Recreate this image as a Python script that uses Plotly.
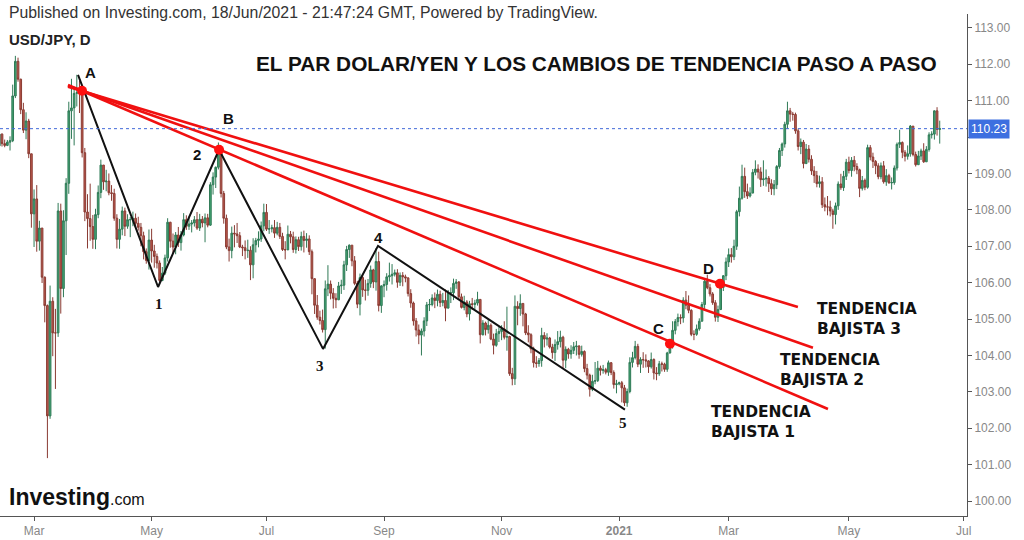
import pandas as pd
import plotly.graph_objects as go

# ---------------- data (USD/JPY daily) ----------------
first_open = 109.76
closes = [
    110.08,109.82,109.77,109.86,109.90,111.13,112.08,111.59,110.75,110.19,110.44,109.54,107.89,
    108.30,107.14,107.50,106.15,105.37,102.34,105.49,104.62,104.62,107.97,105.84,107.70,108.73,110.72,110.80,111.20,111.22,111.21,109.57,107.94,107.76,107.54,
    107.19,107.87,108.48,109.23,108.77,108.79,108.47,108.45,107.77,107.19,107.47,107.97,107.55,107.73,107.73,107.77,107.63,107.52,107.29,106.85,106.61,107.17,
    106.87,106.72,106.54,106.06,106.26,106.68,107.66,107.14,106.98,107.31,107.10,107.31,107.73,107.55,107.61,107.64,107.73,107.50,107.74,107.64,107.78,
    107.58,108.69,108.90,109.17,109.59,108.45,107.77,106.98,106.88,107.36,107.34,107.29,106.98,106.96,106.88,106.89,106.49,107.04,107.16,107.20,107.56,107.93,
    107.47,107.48,107.51,107.36,107.52,107.27,106.91,106.90,107.33,107.26,106.91,107.18,106.99,107.27,107.16,107.20,106.85,106.11,105.38,105.05,104.96,104.71,105.83,
    105.96,105.71,105.57,105.53,105.91,105.93,106.49,106.91,107.03,106.60,105.98,105.41,106.14,105.80,105.79,105.98,106.35,106.02,106.58,105.37,105.91,
    105.95,106.16,106.19,106.23,106.27,106.01,106.20,106.16,106.13,105.70,105.44,104.95,104.70,104.56,104.67,104.95,105.39,105.40,105.58,105.51,105.68,105.45,
    105.51,105.30,105.72,105.72,105.98,106.02,105.61,105.32,105.47,105.14,105.42,105.40,105.44,105.54,104.57,104.89,104.71,104.83,104.45,104.28,104.60,104.66,
    104.73,104.50,104.52,103.50,103.36,105.35,105.29,105.43,105.14,104.62,104.57,104.18,103.80,103.78,103.86,104.55,104.45,104.48,104.23,104.08,104.30,
    104.38,104.50,103.87,104.17,104.04,104.14,104.24,104.26,104.03,104.11,103.64,103.46,103.07,103.29,103.31,103.65,103.59,103.61,103.54,103.80,103.53,103.20,103.22,
    103.25,103.11,102.70,103.01,103.81,103.94,104.25,103.76,103.89,103.88,103.85,103.69,103.89,103.52,103.50,103.77,103.76,103.62,104.07,104.25,104.69,
    104.93,105.04,105.03,105.52,105.38,105.24,104.58,104.58,104.73,104.94,105.40,106.04,105.86,105.69,105.45,105.05,105.26,105.87,106.19,106.57,
    106.77,106.71,107.00,107.95,108.32,108.92,108.50,108.38,108.46,109.03,109.12,109.04,108.83,108.85,108.87,108.72,108.58,108.69,109.19,109.63,109.81,110.35,110.72,
    110.63,110.62,110.17,109.74,109.86,109.27,109.67,109.39,109.07,108.94,108.72,108.77,108.14,108.08,108.08,107.97,107.87,108.11,108.71,108.61,108.92,109.31,
    109.08,109.36,109.19,109.10,108.59,108.81,108.62,109.71,109.45,109.33,109.21,108.91,109.21,108.77,108.94,108.74,108.75,109.15,109.80,109.85,109.58,
    109.47,109.54,110.30,109.52,109.24,109.48,109.62,109.32,109.66,110.06,110.08,110.72,110.21,110.23,
]
highs = [
    110.14,110.10,109.93,109.92,110.02,111.44,112.23,112.18,111.60,110.94,110.68,110.50,109.53,
    108.56,108.68,107.70,107.50,106.17,105.40,105.92,105.60,105.28,108.19,108.17,107.99,108.87,110.97,111.60,111.33,111.71,111.54,111.29,109.70,108.43,108.72,
    107.86,108.03,108.67,109.38,109.13,109.10,109.00,108.68,108.58,107.88,107.75,108.09,108.06,107.88,107.80,107.95,107.90,107.81,107.64,107.40,106.94,107.46,
    107.48,107.04,106.80,106.61,106.43,106.77,107.77,107.67,107.35,107.39,107.53,107.42,107.91,107.85,107.82,107.72,107.83,107.94,107.89,107.83,107.90,
    107.89,108.76,109.03,109.19,109.85,109.50,108.52,107.87,107.21,107.54,107.58,107.64,107.39,107.04,107.16,107.18,107.00,107.22,107.23,107.41,107.68,108.17,
    108.16,107.72,107.59,107.72,107.67,107.64,107.37,107.14,107.57,107.42,107.40,107.27,107.26,107.40,107.43,107.36,107.30,106.91,106.10,105.66,105.23,105.26,106.06,
    106.48,106.06,105.85,105.71,106.02,106.08,106.60,107.01,107.05,107.01,106.73,106.05,106.25,106.22,106.08,106.10,106.47,106.38,106.95,106.85,105.93,
    106.06,106.26,106.55,106.51,106.36,106.37,106.28,106.29,106.22,106.15,105.82,105.48,105.03,104.85,104.74,105.05,105.47,105.55,105.68,105.73,105.81,105.78,
    105.72,105.81,105.80,105.87,106.11,106.10,106.04,105.70,105.64,105.52,105.50,105.58,105.53,105.75,105.54,104.97,104.93,104.97,104.88,104.60,104.73,104.78,
    104.83,104.94,105.34,104.54,103.66,105.65,105.49,105.68,105.43,105.17,104.83,104.61,104.24,103.98,103.93,104.76,104.64,104.61,104.51,104.32,104.44,
    104.67,104.68,104.54,104.25,104.21,104.28,104.37,104.40,104.28,104.27,104.14,103.77,103.50,103.47,103.82,103.85,103.72,103.74,103.66,103.86,103.82,103.59,103.33,
    103.28,103.30,103.19,103.09,103.95,104.10,104.40,104.32,103.95,104.09,104.03,103.87,104.08,103.92,103.68,103.85,103.83,103.80,104.10,104.40,104.94,
    105.00,105.15,105.13,105.60,105.77,105.65,105.27,104.69,104.85,105.02,105.47,106.12,106.22,105.96,105.74,105.52,105.37,106.00,106.21,106.69,
    106.94,106.95,107.18,108.00,108.64,109.24,109.16,108.72,108.62,109.12,109.36,109.25,109.17,109.36,109.11,108.93,108.84,108.82,109.23,109.70,109.85,110.42,110.97,
    110.80,110.69,110.67,110.23,109.96,109.92,109.81,109.78,109.50,109.20,109.07,108.94,108.90,108.34,108.38,108.25,108.03,108.20,108.78,108.99,109.07,109.40,
    109.46,109.45,109.48,109.28,109.13,108.93,108.86,109.79,109.78,109.57,109.37,109.28,109.30,109.34,109.12,108.99,108.89,109.22,109.85,110.20,109.88,
    109.64,109.77,110.33,110.30,109.60,109.62,109.68,109.83,109.75,110.13,110.16,110.73,110.82,110.45,
]
lows = [
    109.73,109.74,109.72,109.75,109.63,109.86,111.07,111.52,110.63,110.11,109.94,109.42,107.51,
    106.98,106.85,106.88,105.99,104.91,101.18,102.26,103.98,103.08,104.51,105.15,105.60,106.76,108.44,109.95,109.77,110.84,110.66,109.44,107.69,106.94,107.15,
    106.93,106.92,107.77,108.32,108.55,108.51,108.40,108.25,107.70,106.94,106.93,107.30,107.28,107.48,107.25,107.55,107.47,107.43,107.00,106.64,106.52,106.36,
    106.55,106.41,106.39,105.99,106.04,106.21,106.58,106.96,106.81,106.78,106.98,106.88,107.27,107.45,107.45,107.38,107.54,107.45,107.42,107.52,107.11,
    107.52,107.56,108.42,108.60,109.11,108.34,107.62,106.92,106.58,106.67,106.97,107.09,106.95,106.73,106.64,106.68,106.07,106.12,106.83,106.97,107.12,107.41,
    107.42,107.34,107.38,107.23,107.30,107.20,106.87,106.64,106.92,107.08,106.82,106.80,106.87,106.88,106.83,106.96,106.76,105.68,105.14,104.98,104.85,104.63,104.19,
    105.63,105.54,105.29,105.30,105.52,105.69,105.80,106.32,106.68,106.45,105.93,105.30,105.10,105.61,105.51,105.64,105.86,105.85,105.78,105.21,105.17,
    105.60,105.78,106.03,105.95,106.17,105.86,105.91,105.90,106.01,105.62,105.31,104.82,104.52,104.31,104.00,104.52,104.81,105.22,105.35,105.30,105.35,105.33,
    105.35,104.94,105.31,105.44,105.52,105.83,105.54,105.29,105.24,105.05,104.96,105.25,105.27,105.37,104.33,104.55,104.55,104.60,104.42,104.03,104.24,104.37,
    104.42,104.44,104.13,103.44,103.18,103.19,104.83,105.09,104.80,104.56,104.36,104.06,103.67,103.66,103.69,103.69,104.22,104.27,104.19,103.91,103.85,
    104.16,104.22,103.64,103.65,103.91,103.91,104.04,104.00,103.91,103.97,103.54,103.34,102.87,103.02,103.21,103.27,103.45,103.50,103.48,103.44,103.46,103.09,102.96,
    103.18,102.71,102.61,102.59,102.96,103.67,103.89,103.68,103.52,103.66,103.67,103.52,103.64,103.34,103.32,103.44,103.56,103.55,103.55,104.05,104.19,
    104.58,104.80,104.86,104.90,105.27,105.16,104.53,104.42,104.54,104.68,104.98,105.28,105.82,105.62,105.39,104.93,104.92,105.25,105.77,106.07,
    106.43,106.55,106.62,106.90,107.82,108.28,108.33,108.30,108.34,108.47,108.95,108.86,108.63,108.66,108.64,108.49,108.41,108.40,108.57,109.13,109.48,109.71,110.23,
    110.42,110.45,110.09,109.63,109.53,109.14,109.27,109.30,108.96,108.74,108.62,108.61,108.05,107.96,107.85,107.82,107.48,107.60,108.00,108.55,108.52,108.82,
    109.00,108.91,109.06,108.98,108.35,108.53,108.54,108.58,109.36,109.15,108.98,108.84,108.84,108.72,108.66,108.72,108.56,108.69,109.08,109.70,109.42,
    109.33,109.38,109.46,109.47,109.19,109.24,109.37,109.29,109.33,109.60,109.96,109.93,110.04,109.82,
]

# trend-line drawings (anchor points)
trend_start_date = "2020-03-19 05:00"
trend_start_prices = [111.43, 111.41, 111.38]
trend_end_dates = ["2021-04-21 16:00", "2021-04-14 01:00", "2021-04-06 10:00"]
trend_end_prices = [102.53, 104.21, 105.33]

zig_dates = ["2020-03-24 23:00", "2020-05-05 22:00", "2020-06-05 18:00",
             "2020-07-30 16:00", "2020-08-28 06:00", "2021-01-05 16:00"]
zig_prices = [111.71, 105.88, 109.65, 104.18, 107.01, 102.51]

dot_dates = ["2020-03-26 11:00", "2020-06-05 18:00", "2021-01-28 12:30", "2021-02-24 06:00"]
dot_prices = [111.27, 109.65, 104.32, 105.97]

tick_dates = ["2020-03-02", "2020-05-01", "2020-07-01", "2020-09-01", "2020-11-02",
              "2021-01-01", "2021-03-01", "2021-05-03", "2021-07-01"]
tick_labels = ["Mar", "May", "Jul", "Sep", "Nov", "<b>2021</b>", "Mar", "May", "Jul"]
price_ticks = [100, 101, 102, 103, 104, 105, 106, 107, 108, 109, 110, 111, 112, 113]

# ---------------- build ----------------
n = min(len(closes), len(highs), len(lows))
closes, highs, lows = closes[:n], highs[:n], lows[:n]
opens = [first_open] + closes[:-1]          # FX daily open = previous close
highs = [max(h, o, c) for h, o, c in zip(highs, opens, closes)]
lows = [min(l, o, c) for l, o, c in zip(lows, opens, closes)]
dates = pd.bdate_range("2020-02-12", periods=n) + pd.Timedelta(hours=12)
last = closes[-1]

W, H = 1024, 540
ML, MR, MT, MB = 0, 57, 14, 24
PW, PH = W - ML - MR, H - MT - MB


def px(x):
    return (x - ML) / PW


def py(y):
    return (H - MB - y) / PH


fig = go.Figure()
fig.add_trace(go.Candlestick(
    x=dates, open=opens, high=highs, low=lows, close=closes,
    increasing=dict(line=dict(color="#2f7a56", width=1), fillcolor="#43a574"),
    decreasing=dict(line=dict(color="#8a3b33", width=1), fillcolor="#bd5a4e"),
    whiskerwidth=0, hoverinfo="skip", showlegend=False,
))

for ed, sp, ep in zip(trend_end_dates, trend_start_prices, trend_end_prices):
    fig.add_trace(go.Scatter(x=[trend_start_date, ed], y=[sp, ep], mode="lines",
                             line=dict(color="#f01010", width=2.6),
                             hoverinfo="skip", showlegend=False))

fig.add_trace(go.Scatter(x=zig_dates, y=zig_prices, mode="lines",
                         line=dict(color="#111111", width=2),
                         hoverinfo="skip", showlegend=False))

fig.add_trace(go.Scatter(x=dot_dates, y=dot_prices, mode="markers",
                         marker=dict(color="#ff1010", size=10),
                         hoverinfo="skip", showlegend=False))

fig.add_shape(type="line", xref="paper", x0=0, x1=1, yref="y", y0=last, y1=last,
              line=dict(color="#4169d8", width=1, dash="dot"))

ann = []


def add_text(text, x, y, size, color="#111", family="Liberation Sans", xanchor="center",
             yanchor="middle", align="center", **kw):
    ann.append(dict(text=text, x=px(x), y=py(y), xref="paper", yref="paper",
                    xanchor=xanchor, yanchor=yanchor, align=align, showarrow=False,
                    font=dict(size=size, color=color, family=family), **kw))


add_text("Published on Investing.com, 18/Jun/2021 - 21:47:24 GMT, Powered by TradingView.",
         7, 12, 15.8, color="#333", xanchor="left")
add_text("<b>USD/JPY, D</b>", 7, 40, 15, color="#222", xanchor="left")
add_text("<b>EL PAR DOLAR/YEN Y LOS CAMBIOS DE TENDENCIA PASO A PASO</b>", 596, 63, 20.8,
         color="#111")

sans_b = "Liberation Sans"
serif_b = "Liberation Serif"
for t, x, y, fam in [("A", 90, 72, sans_b), ("B", 228, 118, sans_b), ("2", 197, 154, sans_b),
                     ("1", 159, 304, serif_b), ("3", 320, 366, serif_b), ("4", 378, 237, sans_b),
                     ("5", 623, 423, serif_b), ("C", 658, 328, sans_b), ("D", 708, 268, sans_b)]:
    add_text("<b>%s</b>" % t, x, y, 15, color="#111", family=fam)

for lab, x, y in [("3", 815, 319), ("2", 778, 370), ("1", 709, 422)]:
    add_text("<b>TENDENCIA<br>BAJISTA %s</b>" % lab, x, y, 15.5, color="#111",
             family="DejaVu Sans", xanchor="left", align="left")

add_text("<b>Investing</b><span style='font-size:16px;font-weight:normal'>.com</span>",
         7, 497, 23, color="#111", xanchor="left")

ann.append(dict(text="%.2f" % last, x=1, xref="paper", y=last, yref="y",
                xanchor="left", yanchor="middle", showarrow=False, xshift=1,
                bgcolor="#3d6fe0", borderpad=2,
                font=dict(size=12, color="white", family="Liberation Sans")))

fig.update_layout(
    width=W, height=H, margin=dict(l=ML, r=MR, t=MT, b=MB),
    paper_bgcolor="white", plot_bgcolor="white",
    boxgap=0.1,
    annotations=ann,
    xaxis=dict(type="date", range=["2020-02-12 18:00", "2021-07-02 17:00"],
               rangebreaks=[dict(bounds=["sat", "mon"])],
               rangeslider=dict(visible=False),
               tickvals=[pd.Timestamp(d) + pd.Timedelta(hours=12) for d in tick_dates],
               ticktext=tick_labels, showgrid=False, zeroline=False,
               showline=True, linecolor="#555", linewidth=1,
               ticks="outside", ticklen=4, tickcolor="#555",
               tickfont=dict(size=12, color="#888", family="Liberation Sans")),
    yaxis=dict(side="right", range=[99.59, 113.38],
               tickvals=price_ticks,
               ticktext=["" if abs(v - last) < 0.5 else "%.2f" % v for v in price_ticks],
               showgrid=False, zeroline=False,
               showline=True, linecolor="#555", linewidth=1,
               ticks="outside", ticklen=4, tickcolor="#555",
               tickfont=dict(size=12, color="#888", family="Liberation Sans")),
)

fig.write_html("out.html")
